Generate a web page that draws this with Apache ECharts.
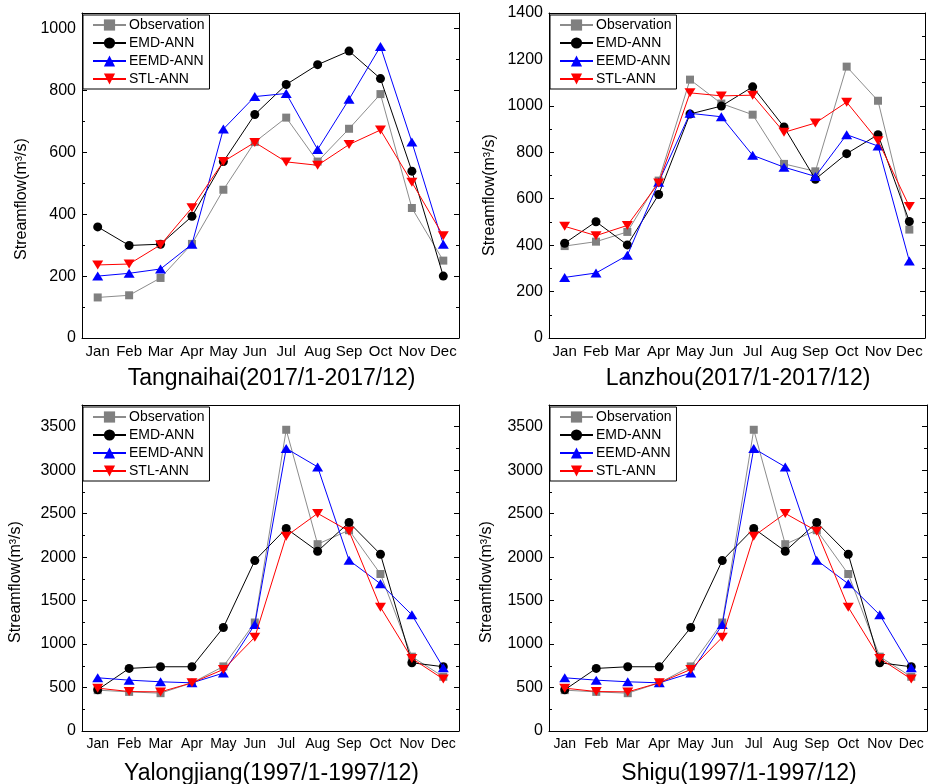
<!DOCTYPE html>
<html lang="en">
<head>
  <meta charset="UTF-8">
  <title>Streamflow forecasts</title>
  <script src="https://cdn.jsdelivr.net/npm/echarts@6/dist/echarts.min.js"></script>
  <style>
    html, body { margin: 0; padding: 0; background: #fff; }
  </style>
</head>
<body>
<div id="main" style="width: 930px; height: 784px;"></div>
<script>
var months = ['Jan', 'Feb', 'Mar', 'Apr', 'May', 'Jun', 'Jul', 'Aug', 'Sep', 'Oct', 'Nov', 'Dec']
var names = ['Observation', 'EMD-ANN', 'EEMD-ANN', 'STL-ANN']

// Tangnaihai 2017
var tangObs  = [131, 138, 194, 304, 479, 633, 712, 570, 676, 788, 420, 250]
var tangEmd  = [359, 299, 303, 393, 570, 722, 819, 883, 927, 838, 539, 200]
var tangEemd = [200, 209, 223, 303, 675, 780, 790, 609, 771, 942, 633, 303]
var tangStl  = [236, 239, 301, 421, 570, 632, 569, 558, 625, 672, 503, 330]

// Lanzhou 2017
var lanObs  = [396, 415, 457, 678, 1113, 1010, 962, 750, 718, 1169, 1022, 467]
var lanEmd  = [408, 501, 401, 618, 965, 999, 1082, 909, 684, 794, 876, 502]
var lanEemd = [261, 280, 356, 671, 968, 953, 787, 736, 696, 876, 827, 332]
var lanStl  = [481, 441, 485, 668, 1056, 1043, 1046, 886, 926, 1016, 850, 567]

// Yalongjiang 1997
var yalObs  = [470, 450, 435, 554, 743, 1248, 3465, 2149, 2310, 1806, 855, 624]
var yalEmd  = [474, 720, 739, 739, 1190, 1960, 2330, 2068, 2399, 2033, 785, 739]
var yalEemd = [612, 585, 566, 554, 666, 1224, 3250, 3038, 1964, 1694, 1336, 728]
var yalStl  = [493, 454, 450, 554, 708, 1078, 2241, 2503, 2299, 1424, 835, 597]

// Shigu 1997 (reads the same as Yalongjiang in the figure)
var shiObs  = [470, 450, 435, 554, 743, 1248, 3465, 2149, 2310, 1806, 855, 624]
var shiEmd  = [474, 720, 739, 739, 1190, 1960, 2330, 2068, 2399, 2033, 785, 739]
var shiEemd = [612, 585, 566, 554, 666, 1224, 3250, 3038, 1964, 1694, 1336, 728]
var shiStl  = [493, 454, 450, 554, 708, 1078, 2241, 2503, 2299, 1424, 835, 597]

var panels = [
  {title: 'Tangnaihai(2017/1-2017/12)', data: [tangObs, tangEmd, tangEemd, tangStl],
   box: [82, 13, 377, 325], ymax: 1050, step: 200, yname: [22, 199], bottom: false},
  {title: 'Lanzhou(2017/1-2017/12)', data: [lanObs, lanEmd, lanEemd, lanStl],
   box: [549, 13, 376, 325], ymax: 1400, step: 200, yname: [490, 195], bottom: false},
  {title: 'Yalongjiang(1997/1-1997/12)', data: [yalObs, yalEmd, yalEemd, yalStl],
   box: [82, 405, 377, 326], ymax: 3750, step: 500, yname: [16, 582], bottom: true},
  {title: 'Shigu(1997/1-1997/12)', data: [shiObs, shiEmd, shiEemd, shiStl],
   box: [549, 405, 378, 326], ymax: 3750, step: 500, yname: [487, 582], bottom: true}
]

var styles = [
  {line: '#8c8c8c', fill: '#808080', symbol: 'rect', size: 8, rotate: 0},
  {line: '#000000', fill: '#000000', symbol: 'circle', size: 9, rotate: 0},
  {line: '#0000ff', fill: '#0000ff', symbol: 'triangle', size: [11, 9], rotate: 0},
  {line: '#ff0000', fill: '#ff0000', symbol: 'triangle', size: [11, 9], rotate: 180}
]

var FONT = 'Liberation Sans, Arial, Helvetica, sans-serif'

var grid = [], xAxis = [], yAxis = [], series = [], legend = [], title = [], graphic = []

panels.forEach(function (p, i) {
  grid.push({left: p.box[0], top: p.box[1], width: p.box[2], height: p.box[3], containLabel: false})

  var lineStyle = {color: '#000', width: 1}
  // bottom axis with month labels, major ticks on months
  xAxis.push({
    type: 'category', gridIndex: i, data: months, position: 'bottom', boundaryGap: true,
    axisLine: {lineStyle: lineStyle},
    axisTick: {inside: true, alignWithLabel: true, length: 5, lineStyle: lineStyle},
    axisLabel: {interval: 0, color: '#000', fontFamily: FONT, fontSize: p.bottom ? 14 : 15, margin: 6}
  })
  // bottom minor ticks between months
  xAxis.push({
    type: 'category', gridIndex: i, data: months, position: 'bottom', boundaryGap: true,
    axisLine: {show: false},
    axisTick: {inside: true, alignWithLabel: false, interval: 0, length: 3, lineStyle: lineStyle},
    axisLabel: {show: false}
  })
  // top mirror axis
  xAxis.push({
    type: 'category', gridIndex: i, data: months, position: 'top', boundaryGap: true,
    axisLine: {lineStyle: lineStyle},
    axisTick: {inside: true, alignWithLabel: true, length: 5, lineStyle: lineStyle},
    axisLabel: {show: false}
  })
  xAxis.push({
    type: 'category', gridIndex: i, data: months, position: 'top', boundaryGap: true,
    axisLine: {show: false},
    axisTick: {inside: true, alignWithLabel: false, interval: 0, length: 3, lineStyle: lineStyle},
    axisLabel: {show: false}
  })

  var yBase = {
    type: 'value', gridIndex: i, min: 0, max: p.ymax, interval: p.step,
    axisLine: {show: true, lineStyle: lineStyle},
    axisTick: {show: true, inside: true, length: 5, lineStyle: lineStyle},
    minorTick: {show: true, splitNumber: 2, length: 3, lineStyle: lineStyle},
    splitLine: {show: false}
  }
  yAxis.push(Object.assign({}, yBase, {
    position: 'left',
    axisLabel: {
      color: '#000', fontFamily: FONT, fontSize: 16, margin: 6,
      showMaxLabel: p.ymax % p.step === 0,
      formatter: function (v) { return String(v) }
    }
  }))
  yAxis.push(Object.assign({}, yBase, {position: 'right', axisLabel: {show: false}}))

  p.data.forEach(function (vals, k) {
    var s = styles[k]
    series.push({
      name: names[k], type: 'line', xAxisIndex: i * 4, yAxisIndex: i * 2,
      data: vals, symbol: s.symbol, symbolSize: s.size, symbolRotate: s.rotate,
      showAllSymbol: true, animation: false, z: 2 + k,
      lineStyle: {color: s.line, width: 1},
      itemStyle: {color: s.fill, borderWidth: 0}
    })
  })

  legend.push({
    data: names, orient: 'vertical', left: p.box[0] + 1, top: p.box[1] + 2,
    itemWidth: 33, itemHeight: 14, itemGap: 4,
    padding: [3, 5, 3, 9], borderColor: '#000', borderWidth: 1, borderRadius: 0,
    backgroundColor: '#fff', selectedMode: false,
    textStyle: {color: '#000', fontFamily: FONT, fontSize: 14, padding: [0, 0, 0, -2]}
  })

  title.push({
    text: p.title, left: p.box[0] + p.box[2] / 2 - 4, textAlign: 'center',
    top: p.box[1] + p.box[3] + (p.bottom ? 26 : 24),
    textStyle: {color: '#000', fontFamily: FONT, fontWeight: 'normal', fontSize: 23}
  })

  graphic.push({
    type: 'text', x: p.yname[0], y: p.yname[1], rotation: Math.PI / 2,
    style: {
      text: 'Streamflow(m³/s)', fill: '#000', font: '16px ' + FONT,
      textAlign: 'center', textVerticalAlign: 'middle'
    }
  })
})

var chart = echarts.init(document.getElementById('main'))
chart.setOption({
  backgroundColor: '#fff',
  animation: false,
  grid: grid,
  xAxis: xAxis,
  yAxis: yAxis,
  legend: legend,
  title: title,
  graphic: graphic,
  series: series
})
</script>
</body>
</html>
